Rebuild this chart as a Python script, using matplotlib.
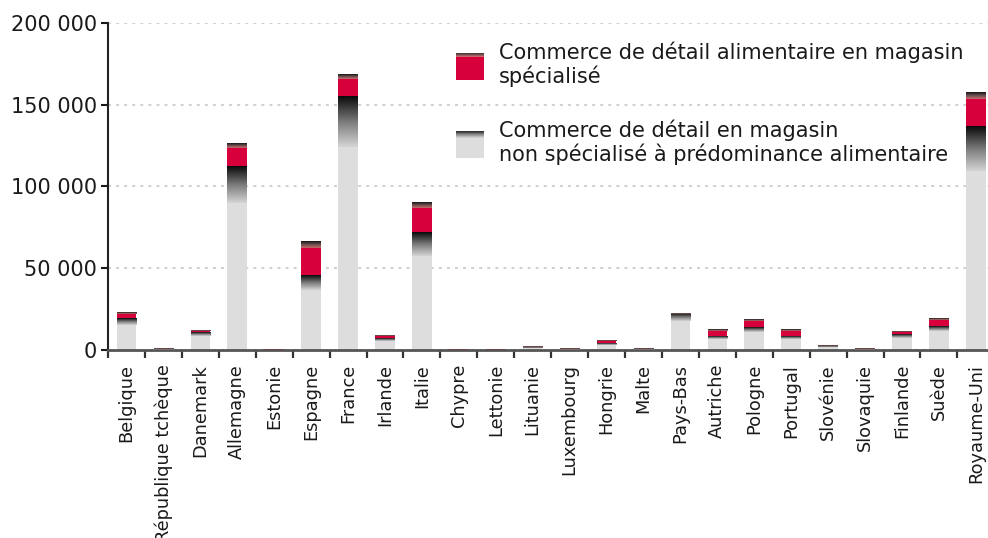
import numpy as np
import matplotlib
matplotlib.use("Agg")
import matplotlib.pyplot as plt
from matplotlib.colors import LinearSegmentedColormap, to_rgb
from matplotlib.ticker import FuncFormatter

# data (number of enterprises / units)
countries = ["Belgique", "République tchèque", "Danemark", "Allemagne", "Estonie",
             "Espagne", "France", "Irlande", "Italie", "Chypre", "Lettonie",
             "Lituanie", "Luxembourg", "Hongrie", "Malte", "Pays-Bas", "Autriche",
             "Pologne", "Portugal", "Slovénie", "Slovaquie", "Finlande", "Suède",
             "Royaume-Uni"]
non_spec = [18800, 300, 10700, 112400, 100, 45800, 155000, 7000, 72100, 100, 100,
            1600, 200, 4000, 200, 21800, 8600, 13900, 8600, 2200, 200, 9500, 14700,
            136900]
spec = [4200, 400, 1500, 13500, 100, 20800, 13000, 2200, 18300, 100, 100,
        100, 800, 1500, 400, 300, 3600, 5000, 3600, 200, 800, 2100, 4200,
        20600]
yticks = [0, 50000, 100000, 150000, 200000]
leg_spec = "Commerce de détail alimentaire en magasin\nspécialisé"
leg_nonspec = "Commerce de détail en magasin\nnon spécialisé à prédominance alimentaire"

LIGHT = "#dddddd"
RED = "#d7003c"
grey_top = LinearSegmentedColormap.from_list("gt", ["#d4d4d4", "#7a7a7a", "#0a0a0a"])
red_top = LinearSegmentedColormap.from_list("rt", ["#c86a6a", "#6e5050", "#151515"])
FRAC = 0.2
W = 0.53

fig = plt.figure(figsize=(9.88, 5.38), dpi=100)
ax = fig.add_axes([108 / 988, 1 - 350 / 538, (994.3 - 108) / 988, (350 - 22.7) / 538])

grad = np.linspace(0, 1, 128).reshape(-1, 1)


def segment(xi, bottom, h, base, cmap):
    ax.bar(xi, h, bottom=bottom, width=W, color=base, linewidth=0, zorder=2)
    ax.imshow(grad, cmap=cmap, origin="lower", aspect="auto", interpolation="bilinear",
              extent=(xi - W / 2, xi + W / 2, bottom + h * (1 - FRAC), bottom + h), zorder=3)


x = np.arange(len(countries))
for i in x:
    segment(i, 0, non_spec[i], LIGHT, grey_top)
    segment(i, non_spec[i], spec[i], RED, red_top)

ax.set_xlim(-0.5, len(countries) - 0.5)
ax.set_ylim(0, 200000)

ax.set_yticks(yticks)
ax.yaxis.set_major_formatter(FuncFormatter(lambda v, p: f"{int(v):,}".replace(",", " ")))
ax.tick_params(axis="y", length=5, width=1.5, labelsize=15, pad=3, colors="#1a1a1a")
ax.yaxis.grid(True, color="#d0d0d0", linestyle=(0, (1.55, 2.6)), linewidth=1.4)
ax.set_axisbelow(True)

ax.set_xticks(x)
ax.set_xticklabels(countries, rotation=90, fontsize=12.8, color="#1a1a1a")
ax.tick_params(axis="x", which="major", length=0, pad=10)
ax.set_xticks(np.arange(-0.5, len(countries)), minor=True)
ax.tick_params(axis="x", which="minor", length=6, width=1.6, color="#333333")

for s in ["top", "right"]:
    ax.spines[s].set_visible(False)
ax.spines["left"].set_color("#222222")
ax.spines["left"].set_linewidth(1.5)
ax.spines["bottom"].set_color("#555555")
ax.spines["bottom"].set_linewidth(2)


# legend, drawn by hand
def icon(px, py_top, py_bot, base, cmap, frac):
    iax = fig.add_axes([px / 988, 1 - py_bot / 538, 28 / 988, (py_bot - py_top) / 538])
    n = 100
    col = np.tile(np.array(to_rgb(base)), (n, 1))
    k = int(n * frac)
    col[n - k:] = cmap(np.linspace(0, 1, k))[:, :3]
    iax.imshow(col.reshape(n, 1, 3), origin="lower", aspect="auto", interpolation="nearest")
    iax.axis("off")


icon(456, 52.7, 80, RED, red_top, 0.17)
icon(456, 130.7, 158.3, LIGHT, grey_top, 0.28)
fig.text(499 / 988, 1 - 64 / 538, leg_spec, fontsize=15, va="center", ha="left",
         color="#1a1a1a", linespacing=1.15)
fig.text(499 / 988, 1 - 142.5 / 538, leg_nonspec, fontsize=15, va="center", ha="left",
         color="#1a1a1a", linespacing=1.15)

fig.savefig("out.png", dpi=100)
